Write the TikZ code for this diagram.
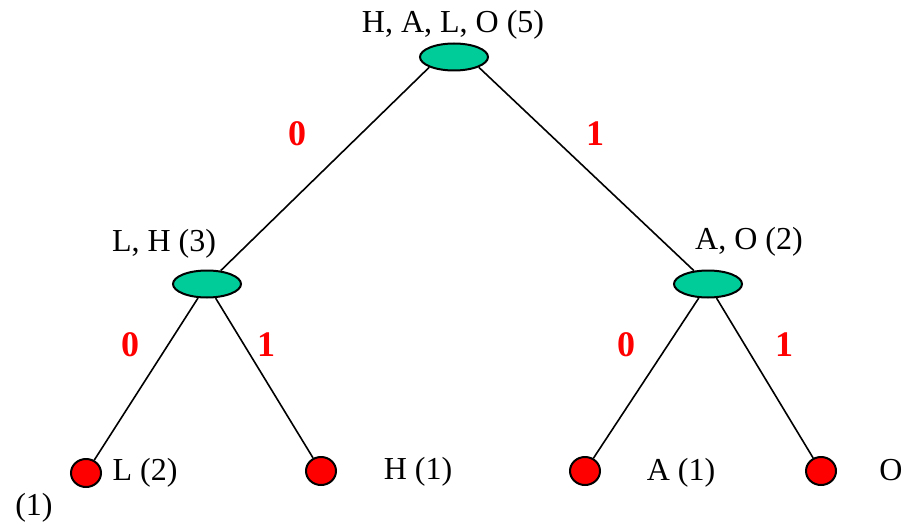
\documentclass[tikz,border=0pt]{standalone}
\usepackage{fontspec}
\setmainfont{Liberation Serif}
\usetikzlibrary{shapes.geometric}
\definecolor{nodegreen}{RGB}{0,204,153}
\tikzset{inbox/.style={
    ellipse,
    draw,
    line width=1pt,
    fill=nodegreen,
    inner sep=0pt,
    minimum width=34pt,
    minimum height=13.5pt
  },
  leafbox/.style={inbox,fill=red,minimum width=15pt,minimum height=14pt},
  namebox/.style={anchor=base,inner sep=0pt,font=\fontsize{16}{19}\selectfont},
  bitbox/.style={namebox,text=red,font=\bfseries\fontsize{18}{21}\selectfont},
  edge/.style={line width=0.8pt},
}
\begin{document}
\begin{tikzpicture}[x=0.5pt,y=-0.5pt]
  \useasboundingbox (0,0) rectangle (914,524);
  % inner nodes
  \node [inbox] (root) at (454,57) {};
  \node [inbox] (lh) at (207,284) {};
  \node [inbox] (ao) at (708,284) {};
  % leaves
  \node [leafbox] (l) at (86,473) {};
  \node [leafbox] (h) at (321,471) {};
  \node [leafbox] (a) at (585,471) {};
  \node [leafbox] (o) at (821,471) {};
  % names
  \node [namebox] (rootname) at (453,33) {H, A, L, O (5)};
  \node [namebox] (lhname) at (164,251) {L, H (3)};
  \node [namebox] (aoname) at (749,249) {A, O (2)};
  \node [namebox] (lname) at (145,480) {L (2)};
  \node [namebox] (hname) at (418,479) {H (1)};
  \node [namebox] (aname) at (681,480) {A (1)};
  \node [namebox,anchor=base west] (oname) at (879,480) {O};
  \node [namebox] (orest) at (34,515) {(1)};
  % edges
  \draw[edge] (root.south west) -- (lh);
  \draw[edge] (root.south east) -- (ao);
  \draw[edge] (lh) -- (l);
  \draw[edge] (lh) -- (h);
  \draw[edge] (ao) -- (a);
  \draw[edge] (ao) -- (o);
  % bits
  \node [bitbox] (b0) at (297,145) {0};
  \node [bitbox] (b1) at (595,145) {1};
  \node [bitbox] (b00) at (130,356) {0};
  \node [bitbox] (b01) at (266,356) {1};
  \node [bitbox] (b10) at (626,356) {0};
  \node [bitbox] (b11) at (784,356) {1};
\end{tikzpicture}
\end{document}
